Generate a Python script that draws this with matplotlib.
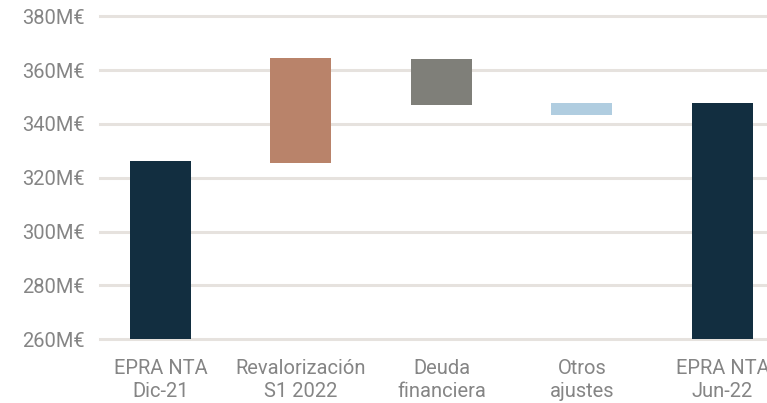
import matplotlib
matplotlib.use("Agg")
import matplotlib.pyplot as plt

categories = ["EPRA NTA\nDic-21", "Revalorización\nS1 2022", "Deuda\nfinanciera", "Otros\najustes", "EPRA NTA\nJun-22"]
bar_low = [260.0, 325.5, 347.1, 343.4, 260.0]
bar_high = [326.3, 364.6, 364.2, 347.8, 347.8]
colors = ["#122e40", "#b9836a", "#7f7f79", "#b0cde0", "#122e40"]
yticks = [260, 280, 300, 320, 340, 360, 380]
ytick_labels = [f"{v}M€" for v in yticks]

plt.rcParams['font.family'] = ['Roboto', 'DejaVu Sans']

fig = plt.figure(figsize=(7.67, 4.03), dpi=100)
ax = fig.add_axes([100/767, (403-339.3)/403, 667/767, (339.3-16.3)/403])

x = list(range(len(categories)))
heights = [h - l for l, h in zip(bar_low, bar_high)]
ax.bar(x, heights, bottom=bar_low, width=0.434, color=colors, zorder=3)

ax.set_ylim(260, 380)
ax.set_xlim(-0.43, 4.317)
ax.set_yticks(yticks)
ax.set_yticklabels(ytick_labels)
ax.set_xticks(x)
ax.set_xticklabels(categories, linespacing=1.3)
ax.yaxis.grid(True, color="#e6e2de", linewidth=2.2, zorder=0)
for gl in ax.get_ygridlines():
    gl.set_clip_on(False)
for s in ax.spines.values():
    s.set_visible(False)
ax.tick_params(axis='y', length=0, pad=11, labelsize=14.5, labelcolor="#858585")
ax.tick_params(axis='x', length=0, pad=14, labelsize=14.5, labelcolor="#858585")

fig.savefig("out.png", dpi=100)
